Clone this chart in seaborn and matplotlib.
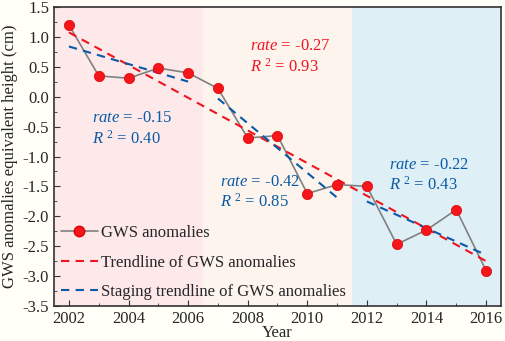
import numpy as np
import pandas as pd
import seaborn as sns
import matplotlib.pyplot as plt
from matplotlib.lines import Line2D
from matplotlib.ticker import MultipleLocator

years = list(range(2002, 2017))
gws = [1.20, 0.35, 0.31, 0.48, 0.40, 0.14, -0.69, -0.65, -1.62, -1.47,
       -1.50, -2.47, -2.23, -1.89, -2.91]
stages = [(2002, 2006), (2007, 2011), (2012, 2016)]
stage_colors = ["#fde8ea", "#fdf4ee", "#dfeff6"]
stage_labels = [("-0.15", "0.40"), ("-0.42", "0.85"), ("-0.22", "0.43")]
overall_label = ("-0.27", "0.93")

df = pd.DataFrame({"year": years, "gws": gws})

sns.set_style("ticks")
plt.rcParams["font.family"] = ["Liberation Serif", "DejaVu Serif"]
plt.rcParams["mathtext.fontset"] = "custom"
plt.rcParams["mathtext.rm"] = "Liberation Serif"
plt.rcParams["mathtext.it"] = "Liberation Serif:italic"

fig = plt.figure(figsize=(5.05, 3.41), dpi=100, facecolor="#fffef7")
ax = fig.add_axes([0.107, 0.103, 0.885, 0.876])

# shaded stage backgrounds
ax.axvspan(2001.5, 2006.5, color=stage_colors[0], lw=0, zorder=0)
ax.axvspan(2006.5, 2011.5, color=stage_colors[1], lw=0, zorder=0)
ax.axvspan(2011.5, 2016.5, color=stage_colors[2], lw=0, zorder=0)

red = "#f0141e"
blue = "#0a5aa5"

# overall trendline
sns.regplot(data=df, x="year", y="gws", scatter=False, ci=None, ax=ax,
            line_kws=dict(color=red, ls=(0, (4, 3)), lw=1.5, zorder=3))
# staging trendlines
for s0, s1 in stages:
    sub = df[(df.year >= s0) & (df.year <= s1)]
    sns.regplot(data=sub, x="year", y="gws", scatter=False, ci=None, ax=ax,
                line_kws=dict(color=blue, ls=(0, (4, 3)), lw=1.5, zorder=3))

sns.lineplot(data=df, x="year", y="gws", color="#808080", lw=1.2, ax=ax, zorder=2)
ax.scatter(df.year, df.gws, s=55, color="#f5161c", edgecolor="#e00000", lw=0.5, zorder=4)

ax.set_xlim(2001.5, 2016.5)
ax.set_ylim(-3.5, 1.5)
ax.set_xticks(range(2002, 2017, 2))
ax.xaxis.set_minor_locator(MultipleLocator(1))
ax.yaxis.set_major_locator(MultipleLocator(0.5))
ax.yaxis.set_minor_locator(MultipleLocator(0.25))
ax.yaxis.set_major_formatter(plt.FuncFormatter(lambda v, p: f"{v:.1f}"))
ax.tick_params(which="both", direction="in", labelsize=12, color="#333333")
ax.tick_params(which="major", length=4)
ax.tick_params(which="minor", length=2)
for sp in ax.spines.values():
    sp.set_color("#333333")
    sp.set_linewidth(1.2)
ax.set_xlabel("Year", fontsize=12, labelpad=-1.5)
ax.set_ylabel("GWS anomalies equivalent height (cm)", fontsize=12, labelpad=3)

def annot(x, y, rate, r2, color):
    ax.text(x, y, r"$\it{rate}$ = " + rate, color=color, fontsize=12, va="center")
    ax.text(x, y - 0.34, r"$\it{R}$ $^{2}$ = " + r2, color=color, fontsize=12, va="center")

annot(2008.08, 0.85, overall_label[0], overall_label[1], red)
annot(2002.77, -0.36, stage_labels[0][0], stage_labels[0][1], blue)
annot(2007.07, -1.42, stage_labels[1][0], stage_labels[1][1], blue)
annot(2012.74, -1.14, stage_labels[2][0], stage_labels[2][1], blue)

handles = [
    Line2D([], [], color="#808080", lw=1.2, marker="o", markersize=7.5,
           markerfacecolor="#f5161c", markeredgecolor="#e00000"),
    Line2D([], [], color=red, ls=(0, (4, 3)), lw=1.5),
    Line2D([], [], color=blue, ls=(0, (4, 3)), lw=1.5),
]
ax.legend(handles, ["GWS anomalies", "Trendline of GWS anomalies",
                    "Staging trendline of GWS anomalies"],
          loc="lower left", bbox_to_anchor=(-0.018, -0.03), frameon=False,
          fontsize=12, handlelength=2.2, handletextpad=0.2, labelspacing=0.8)

fig.savefig("out.png", dpi=100, facecolor=fig.get_facecolor())
